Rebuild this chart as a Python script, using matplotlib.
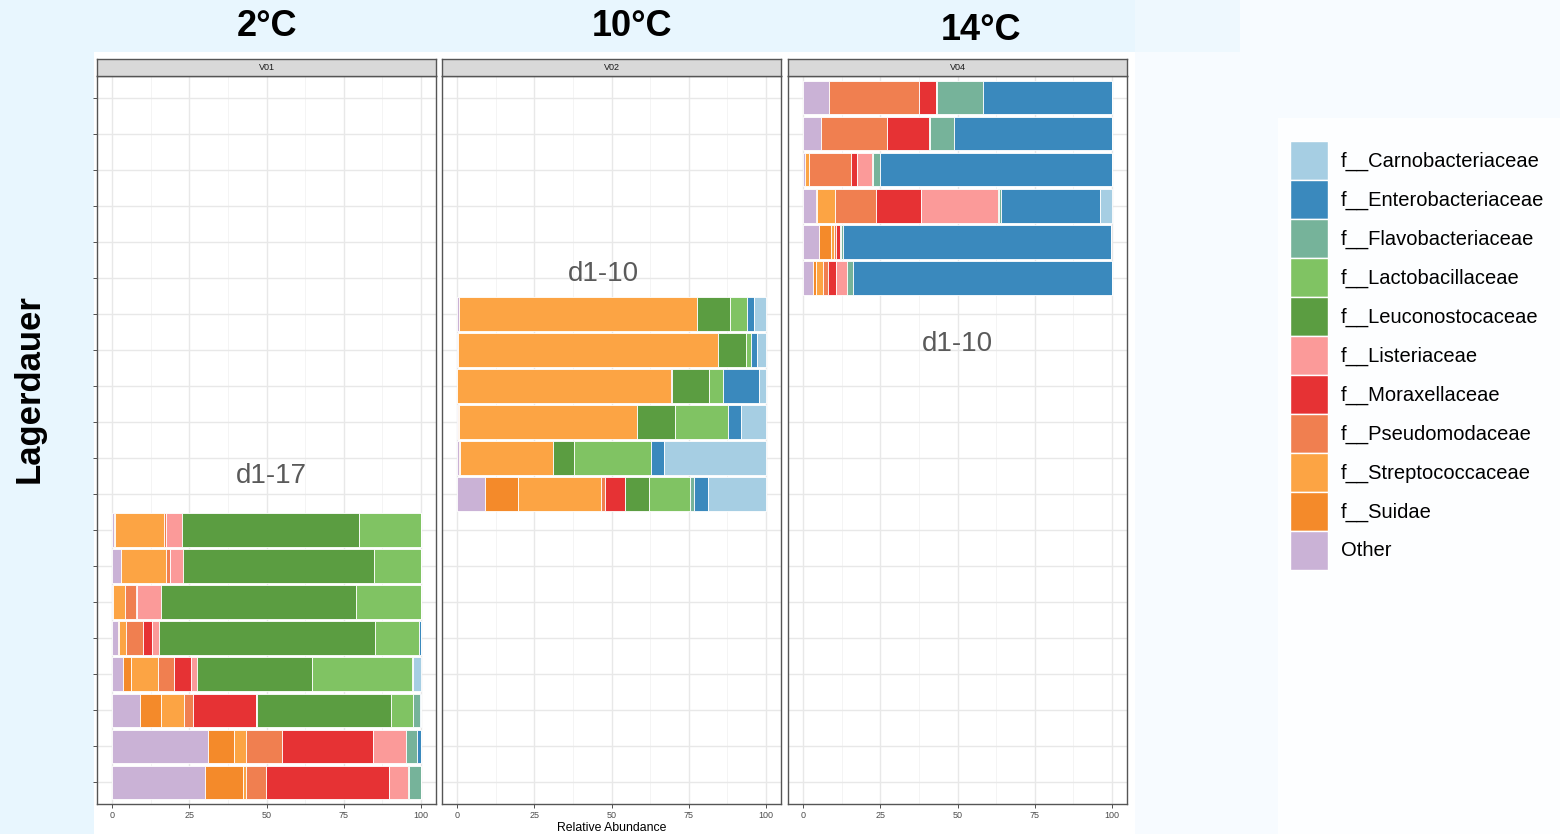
import numpy as np
import matplotlib.pyplot as plt
from matplotlib.patches import Patch, Rectangle

plt.rcParams['font.family'] = ['Liberation Sans', 'DejaVu Sans']

# families in legend order; bars are stacked in reverse order (Other first)
families = ['f__Carnobacteriaceae', 'f__Enterobacteriaceae', 'f__Flavobacteriaceae',
            'f__Lactobacillaceae', 'f__Leuconostocaceae', 'f__Listeriaceae',
            'f__Moraxellaceae', 'f__Pseudomodaceae', 'f__Streptococcaceae',
            'f__Suidae', 'Other']
colors = ['#a6cee3', '#3a89bd', '#76b39a', '#80c363', '#5b9d41', '#fb9a99',
          '#e63234', '#f07f50', '#fca444', '#f48a2a', '#cab2d6']

# relative abundance per sample, columns follow the stacking order:
# Other, Suidae, Strep, Pseudo, Morax, Lister, Leucon, Lacto, Flavo, Entero, Carno
stack_order = families[::-1]

v01_rows = [1, 2, 3, 4, 5, 6, 7, 8]
v01 = [
    [29.9, 12.4, 1.1, 6.3, 39.9, 6.3, 0.3, 0.0, 3.8, 0.0, 0.0],
    [31.1, 8.3, 3.8, 11.8, 29.7, 10.5, 0.0, 0.0, 3.6, 1.2, 0.0],
    [9.0, 6.9, 7.3, 2.9, 20.6, 0.3, 43.3, 7.3, 2.2, 0.4, 0.0],
    [3.4, 2.6, 8.8, 5.3, 5.3, 1.9, 37.6, 32.3, 0.4, 0.0, 2.5],
    [1.8, 0.3, 2.3, 5.6, 2.7, 2.3, 70.3, 14.3, 0.0, 0.4, 0.0],
    [0.2, 0.0, 3.8, 3.5, 0.4, 7.9, 63.4, 20.8, 0.0, 0.0, 0.0],
    [2.9, 0.0, 14.5, 1.4, 0.0, 4.2, 61.8, 15.2, 0.0, 0.0, 0.0],
    [0.6, 0.2, 15.8, 0.7, 0.0, 5.3, 57.4, 20.0, 0.0, 0.0, 0.0],
]

v02_rows = [9, 10, 11, 12, 13, 14]
v02 = [
    [9.0, 10.7, 26.9, 1.4, 6.5, 0.0, 7.6, 13.4, 1.4, 4.3, 18.8],
    [0.4, 0.4, 30.2, 0.0, 0.0, 0.0, 6.9, 25.0, 0.0, 4.2, 32.9],
    [0.3, 0.3, 57.7, 0.0, 0.0, 0.0, 12.2, 17.4, 0.0, 4.2, 7.9],
    [0.0, 0.0, 69.3, 0.0, 0.4, 0.0, 11.8, 4.7, 0.0, 11.7, 2.1],
    [0.3, 0.0, 84.2, 0.0, 0.0, 0.0, 9.2, 1.5, 0.0, 1.9, 2.9],
    [0.6, 0.0, 77.1, 0.0, 0.0, 0.0, 10.6, 5.6, 0.0, 2.5, 3.6],
]

v04_rows = [15, 16, 17, 18, 19, 20]
v04 = [
    [3.2, 0.8, 2.5, 1.5, 2.5, 3.5, 0.0, 0.0, 2.1, 83.9, 0.0],
    [4.9, 4.2, 0.9, 0.5, 1.5, 0.0, 0.3, 0.0, 0.5, 86.9, 0.0],
    [4.1, 0.3, 5.8, 13.2, 14.9, 25.0, 0.3, 0.0, 0.5, 32.3, 3.6],
    [0.6, 0.0, 1.2, 13.7, 1.8, 4.9, 0.3, 0.0, 2.5, 75.0, 0.0],
    [5.7, 0.0, 0.0, 21.4, 13.5, 0.0, 0.6, 0.0, 7.6, 51.2, 0.0],
    [8.3, 0.0, 0.0, 29.1, 5.6, 0.5, 0.0, 0.0, 14.8, 41.7, 0.0],
]

strips = ['V01', 'V02', 'V04']
temps = ['2°C', '10°C', '14°C']
periods = ['d1-17', 'd1-10', 'd1-10']
period_pos = [(51.5, 9.5), (47.5, 15.1), (50.0, 13.15)]
xticks = [0, 25, 50, 75, 100]
n_samples = 20

W, H = 1560, 834
fig = plt.figure(figsize=(W / 100, H / 100), dpi=100, facecolor='#e8f6fe')


def fx(px):
    return px / W


def fy(py):
    return 1 - py / H


def block(x0, y0, x1, y1, color, z=-1):
    fig.patches.append(Rectangle((fx(x0), fy(y1)), fx(x1 - x0), fy(y0) - fy(y1),
                                 transform=fig.transFigure, facecolor=color,
                                 edgecolor='none', zorder=z))


# background blocks
block(1135, 0, 1240, 52, '#eef8fe', -2)
block(1240, 0, W, H, '#f7fbff', -2)
block(1135, 52, 1240, H, '#f7fbff', -2)
block(94, 52, 1135, H, 'white')
block(1278, 118, W, H, '#fdfeff')

panel_left = [97, 442, 788]
panel_w = 339
top, bottom = 76, 804
panels = [(v01_rows, v01), (v02_rows, v02), (v04_rows, v04)]

for i, (rows, vals) in enumerate(panels):
    ax = fig.add_axes([fx(panel_left[i]), fy(bottom), fx(panel_w), fy(top) - fy(bottom)])
    vals = np.array(vals)
    left = np.zeros(len(rows))
    for j, fam in enumerate(stack_order):
        c = colors[families.index(fam)]
        ax.barh(rows, vals[:, j], left=left, height=0.93, color=c,
                edgecolor='white', linewidth=0.6, zorder=3)
        left += vals[:, j]

    ax.set_xlim(-5, 105)
    ax.set_ylim(0.4, n_samples + 0.6)
    ax.set_xticks(xticks)
    ax.set_xticks([12.5, 37.5, 62.5, 87.5], minor=True)
    ax.set_yticks(np.arange(1, n_samples + 1))
    ax.set_yticklabels([])
    ax.grid(True, which='major', color='#e8e8e8', linewidth=1.0, zorder=0)
    ax.grid(True, which='minor', axis='x', color='#f2f2f2', linewidth=0.6, zorder=0)
    ax.tick_params(axis='x', which='major', length=3, width=0.6, color='#333333',
                   labelsize=6.5, labelcolor='#4d4d4d', pad=2)
    ax.tick_params(axis='x', which='minor', length=0)
    if i == 0:
        ax.tick_params(axis='y', length=3, width=0.6, color='#333333')
    else:
        ax.tick_params(axis='y', length=0)
    for s in ax.spines.values():
        s.set_color('#555555')
        s.set_linewidth(1.0)

    ax.text(period_pos[i][0], period_pos[i][1], periods[i], fontsize=20,
            color='#5a5a5a', ha='center', va='center', zorder=5)

    # facet strip
    sax = fig.add_axes([fx(panel_left[i]), fy(top), fx(panel_w), fy(59) - fy(top)])
    sax.set_facecolor('#d9d9d9')
    sax.set_xticks([])
    sax.set_yticks([])
    for s in sax.spines.values():
        s.set_color('#555555')
        s.set_linewidth(1.0)
    sax.text(0.5, 0.5, strips[i], fontsize=6.5, color='#1a1a1a',
             ha='center', va='center', transform=sax.transAxes)

# temperature headings
title_pos = [(267, 26), (632, 26), (981, 31)]
for t, (px, py) in zip(temps, title_pos):
    fig.text(fx(px), fy(py), t, fontsize=26, fontweight='bold', ha='center', va='center')

fig.text(fx(29), fy(389), 'Lagerdauer', fontsize=25, fontweight='bold',
         rotation=90, ha='center', va='center')
fig.text(fx(612), fy(828), 'Relative Abundance', fontsize=8.8, ha='center', va='center')

handles = [Patch(facecolor=c, edgecolor='white', linewidth=1.0) for c in colors]
fig.legend(handles, families, loc='upper left', bbox_to_anchor=(fx(1290), fy(141)),
           frameon=False, fontsize=14.5, handlelength=1.89, handleheight=2.6,
           labelspacing=0.0, handletextpad=0.62, borderpad=0.0, borderaxespad=0.0)

fig.savefig('out.png', dpi=100, facecolor=fig.get_facecolor())
